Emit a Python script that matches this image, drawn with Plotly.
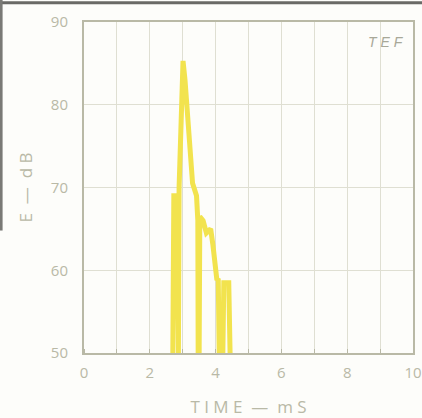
import plotly.graph_objects as go

# Energy-time curve
time_ms = [2.70, 2.73, 2.82, 2.84, 2.87, 2.89, 3.01, 3.07, 3.30, 3.42, 3.46, 3.47, 3.50, 3.52,
           3.62, 3.72, 3.85, 3.92, 3.98, 4.04, 4.08, 4.11, 4.22, 4.25, 4.40, 4.44]
energy_db = [50, 69, 69, 50, 50, 70, 85.3, 83, 70.5, 69, 66, 50, 50, 66.5,
             66, 64.5, 65, 63, 61, 58.8, 59, 50, 50, 58.5, 58.5, 50]

x_ticks = [0, 2, 4, 6, 8, 10]
y_ticks = [50, 60, 70, 80, 90]

axis_col = "#b9b9a6"
grid_col = "#dfdfd2"
font = dict(family="Open Sans, Liberation Sans, Arial, sans-serif", size=15, color=axis_col)

fig = go.Figure()
fig.add_trace(go.Scatter(
    x=time_ms, y=energy_db, mode="lines",
    line=dict(color="#f2e34e", width=5),
    hoverinfo="skip", showlegend=False,
))

fig.update_layout(
    width=422, height=418,
    margin=dict(l=84, r=9, t=22, b=65),
    paper_bgcolor="#fdfdfa", plot_bgcolor="#fdfdfa",
    font=font,
    showlegend=False,
    annotations=[dict(
        text="<i>T E F</i>", x=0.918, y=0.94, xref="paper", yref="paper",
        xanchor="center", yanchor="middle",
        showarrow=False, font=dict(family="Liberation Sans, Arial, sans-serif",
                                   size=14, color="#a8a898"),
    )],
    shapes=[
        dict(type="line", xref="paper", yref="paper", x0=-0.3, x1=1.05,
             y0=1.058, y1=1.058, line=dict(color="#6a6a66", width=3)),
        dict(type="line", xref="paper", yref="paper", x0=-0.252, x1=-0.252,
             y0=1.07, y1=0.37, line=dict(color="#7a7a76", width=3)),
    ],
)

fig.update_xaxes(
    range=[0, 10], tickvals=x_ticks, ticktext=[str(v) for v in x_ticks],
    showgrid=True, gridcolor=grid_col, gridwidth=1,
    minor=dict(dtick=1, showgrid=True, gridcolor=grid_col, ticks="inside",
               ticklen=4, tickcolor=axis_col),
    showline=True, linecolor=axis_col, linewidth=2, mirror=True,
    ticks="", zeroline=False, automargin=False,
    ticklabelstandoff=5,
    title=dict(text="T I M E  —  m S", font=dict(size=17, color=axis_col), standoff=22),
)
fig.update_yaxes(
    range=[50, 90], tickvals=y_ticks, ticktext=[str(v) for v in y_ticks],
    showgrid=True, gridcolor=grid_col, gridwidth=1,
    showline=True, linecolor=axis_col, linewidth=2, mirror=True,
    ticks="", zeroline=False, automargin=False,
    ticklabelstandoff=11,
    title=dict(text="E  —  d B", font=dict(size=17, color=axis_col), standoff=14),
)

fig.write_html("out.html", config={"displayModeBar": False},
               post_script="document.body.style.margin='0';")
